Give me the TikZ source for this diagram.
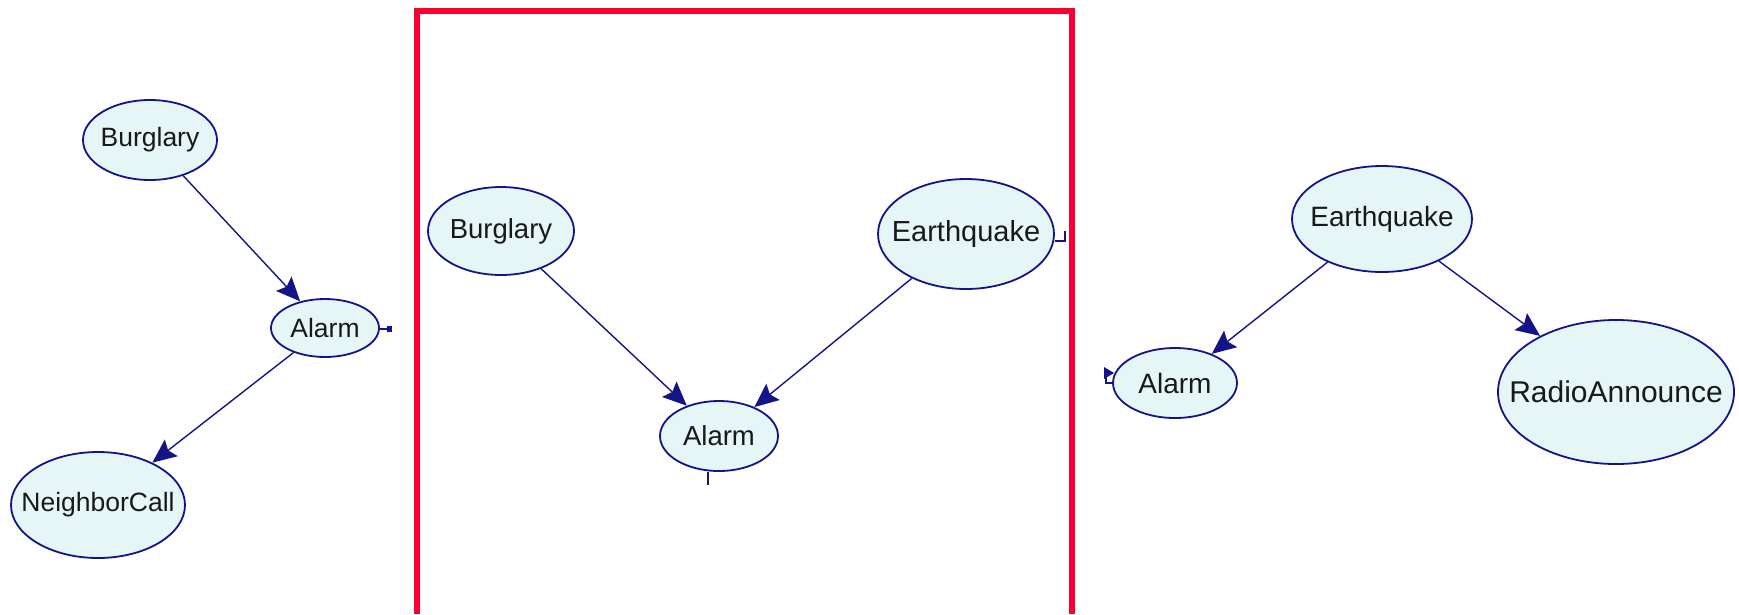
\documentclass[tikz,border=0pt]{standalone}
\usepackage{fontspec}
\setmainfont{Liberation Sans}
\usetikzlibrary{arrows.meta,shapes.geometric}
\definecolor{netblue}{RGB}{20,20,136}
\definecolor{netfill}{RGB}{230,246,246}
\definecolor{framered}{RGB}{250,0,50}

\begin{document}
\begin{tikzpicture}[x=1pt,y=-1pt,
	bn/.style 2 args={ellipse,draw=netblue,fill=netfill,line width=1.8,inner sep=0,
		minimum width=#1,minimum height=#2},
	every label/.style={text=black!90,inner sep=0},
	dep/.style={netblue,line width=1.4,-{Stealth[length=24pt,width=21pt,inset=4pt]}},
	stub/.style={netblue,line width=1.8}]
	\useasboundingbox (0,0) rectangle (1739,614);

	% left network
	\begin{scope}[font=\fontsize{26.5}{30}\selectfont]
		\node[bn={134}{80},label=center:Burglary] (lbur) at (150,140) {};
		\node[bn={108}{58},label=center:Alarm] (lal) at (325,328) {};
		\node[bn={174}{106},label=center:NeighborCall] (lnc) at (98,505) {};
	\end{scope}

	% middle network
	\begin{scope}[font=\fontsize{27.5}{32}\selectfont]
		\node[bn={146}{88},label=center:Burglary] (mbur) at (501,231) {};
		\node[bn={176}{110},label={[font=\fontsize{29}{33}\selectfont]center:Earthquake}] (meq) at (966,234) {};
		\node[bn={118}{70},label=center:Alarm] (mal) at (719,436) {};
	\end{scope}

	% right network
	\begin{scope}[font=\fontsize{28}{32}\selectfont]
		\node[bn={180}{106},label=center:Earthquake] (req) at (1382,219) {};
		\node[bn={124}{70},label=center:Alarm] (ral) at (1175,383) {};
		\node[bn={236}{144},label={[font=\fontsize{30}{34}\selectfont]center:RadioAnnounce}] (rra) at (1616,392) {};
	\end{scope}

	\foreach \f/\t in {lbur/lal,lal/lnc,mbur/mal,meq/mal,req/ral,req/rra}{
		\draw[dep] (\f) -- (\t);
	}

	% cut-off links
	\coordinate (c1) at (389,329);
	\draw[stub] (lal.east |- c1) -- (c1);
	\fill[netblue] (c1) ++(-2,-3) rectangle ++(5,6);
	\coordinate (c2) at (1065,241);
	\coordinate (c2a) at (1065,231);
	\draw[stub] (meq.east |- c2) -- (c2) -- (c2a);
	\coordinate (c3) at (708,485);
	\draw[stub] (c3 |- mal.south) -- (c3);
	\coordinate (c4) at (1106,383);
	\coordinate (c4a) at (1106,372);
	\draw[stub] (ral.west |- c4) -- (c4) -- (c4a);
	\fill[netblue] (1114,373) -- (1104,367) -- (1104,379) -- cycle;

	% selected panel
	\draw[framered,line width=6] (417,614) -- (417,11) -- (1072,11) -- (1072,614);
\end{tikzpicture}
\end{document}
